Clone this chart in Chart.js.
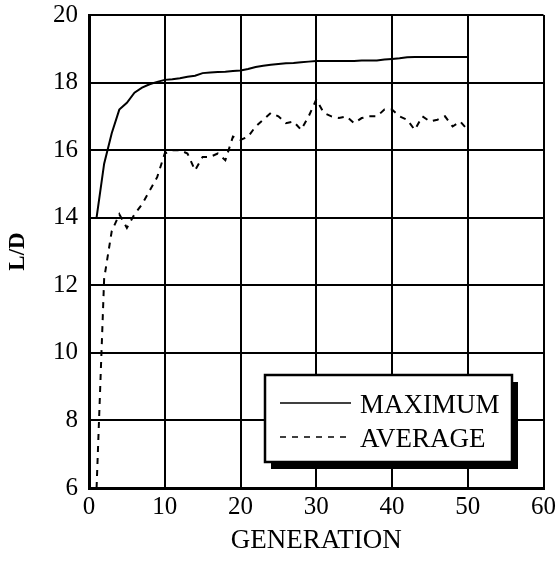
<!DOCTYPE html>
<html>
<head>
<meta charset="utf-8">
<script src="https://cdn.jsdelivr.net/npm/chart.js@4"></script>
<style>
  html, body { margin: 0; padding: 0; background: #fff; }
  #wrap { width: 560px; height: 561px; }
</style>
</head>
<body>
<div id="wrap"><canvas id="chart" width="560" height="561"></canvas></div>
<script>
// generations 1..50
const generations = Array.from({ length: 50 }, (_, i) => i + 1);

// best L/D in each generation
const maximumLD = [
  14.0, 15.6, 16.5, 17.2, 17.4, 17.7, 17.85, 17.95, 18.02, 18.08,
  18.1, 18.13, 18.17, 18.2, 18.28, 18.3, 18.31, 18.32, 18.34, 18.36,
  18.4, 18.46, 18.5, 18.53, 18.55, 18.57, 18.58, 18.6, 18.62, 18.64,
  18.64, 18.64, 18.64, 18.64, 18.64, 18.65, 18.65, 18.65, 18.68, 18.7,
  18.72, 18.75, 18.76, 18.76, 18.76, 18.76, 18.76, 18.76, 18.76, 18.76
];

// average L/D of the population
const averageLD = [
  6.0, 12.2, 13.6, 14.1, 13.7, 14.1, 14.4, 14.8, 15.2, 15.9,
  16.0, 16.0, 15.9, 15.4, 15.8, 15.8, 15.9, 15.7, 16.4, 16.3,
  16.4, 16.7, 16.9, 17.1, 17.0, 16.8, 16.85, 16.6, 17.0, 17.5,
  17.1, 17.0, 16.95, 17.0, 16.8, 16.95, 17.0, 17.0, 17.2, 17.2,
  17.0, 16.9, 16.6, 17.0, 16.85, 16.9, 17.0, 16.7, 16.85, 16.6
];

const seriesNames = ['MAXIMUM', 'AVERAGE'];
const xTicks = [0, 10, 20, 30, 40, 50, 60];
const yTicks = [6, 8, 10, 12, 14, 16, 18, 20];

const serif = '"Liberation Serif", "DejaVu Serif", serif';

function points(ys) {
  return generations.map((g, i) => ({ x: g, y: ys[i] }));
}

// legend box with a drop shadow, drawn over the grid
const boxLegend = {
  id: 'boxLegend',
  afterDraw(chart) {
    const ctx = chart.ctx;
    const x = 265, y = 375, w = 247, h = 87;
    ctx.save();
    ctx.fillStyle = '#000';
    ctx.fillRect(x + 6, y + 7, w, h);
    ctx.fillStyle = '#fff';
    ctx.fillRect(x, y, w, h);
    ctx.lineWidth = 2.5;
    ctx.strokeStyle = '#000';
    ctx.strokeRect(x, y, w, h);

    chart.data.datasets.forEach((ds, i) => {
      const ly = y + 30 + i * 34;
      ctx.beginPath();
      ctx.lineWidth = 1.5;
      ctx.setLineDash(ds.borderDash || []);
      ctx.moveTo(x + 15, ly - 2);
      ctx.lineTo(x + 86, ly - 2);
      ctx.stroke();
      ctx.setLineDash([]);
      ctx.fillStyle = '#000';
      ctx.font = '27px ' + serif;
      ctx.textBaseline = 'middle';
      ctx.fillText(ds.label, x + 95, ly + 1);
    });
    ctx.restore();
  }
};

new Chart(document.getElementById('chart'), {
  type: 'line',
  data: {
    datasets: [
      {
        label: seriesNames[0],
        data: points(maximumLD),
        borderColor: '#000',
        borderWidth: 2,
        pointRadius: 0,
        tension: 0
      },
      {
        label: seriesNames[1],
        data: points(averageLD),
        borderColor: '#000',
        borderWidth: 2,
        borderDash: [6, 6],
        pointRadius: 0,
        tension: 0
      }
    ]
  },
  options: {
    responsive: false,
    animation: false,
    layout: { padding: { top: 15, right: 12, left: 0, bottom: 0 } },
    plugins: {
      legend: { display: false },
      tooltip: { enabled: false }
    },
    scales: {
      x: {
        type: 'linear',
        min: 0,
        max: 60,
        afterBuildTicks: s => { s.ticks = xTicks.map(v => ({ value: v })); },
        afterFit: s => { s.height = 73; },
        grid: { color: '#000', lineWidth: 2, drawTicks: false },
        border: { color: '#000', width: 3 },
        ticks: { color: '#000', padding: 4, font: { family: serif, size: 25 } },
        title: {
          display: true,
          text: 'GENERATION',
          color: '#000',
          padding: { top: 2 },
          font: { family: serif, size: 27 }
        }
      },
      y: {
        min: 6,
        max: 20,
        afterBuildTicks: s => { s.ticks = yTicks.map(v => ({ value: v })); },
        afterFit: s => {
          s.width = 89;
          s.paddingTop = 0;
          s.paddingBottom = 0;
        },
        grid: { color: '#000', lineWidth: 2, drawTicks: false },
        border: { color: '#000', width: 3 },
        ticks: { color: '#000', padding: 11, font: { family: serif, size: 25 } },
        title: {
          display: true,
          text: 'L/D',
          color: '#000',
          padding: { bottom: 2 },
          font: { family: serif, size: 23, weight: 'bold' }
        }
      }
    }
  },
  plugins: [boxLegend]
});
</script>
</body>
</html>
